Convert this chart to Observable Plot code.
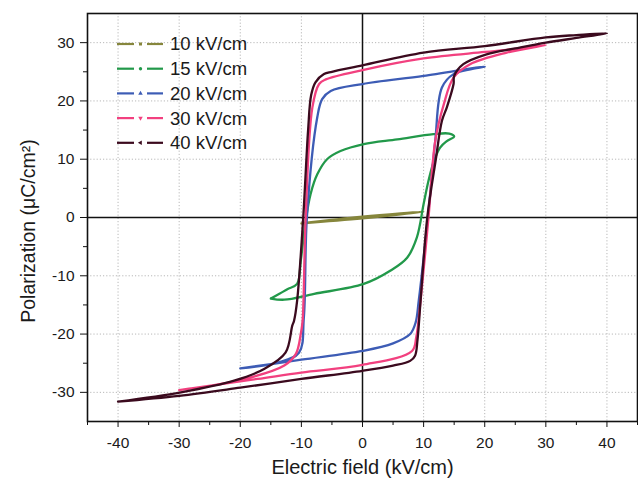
<!DOCTYPE html>
<html><head><meta charset="utf-8">
<script src="https://cdn.jsdelivr.net/npm/d3@7"></script>
<script src="https://cdn.jsdelivr.net/npm/@observablehq/plot@0.6"></script>
<style>body{margin:0;background:#fff}</style>
</head><body><div id="chart"></div>
<script>
const seriesNames = ["10 kV/cm","15 kV/cm","20 kV/cm","30 kV/cm","40 kV/cm"];
const seriesColors = ["#86863c","#22994a","#3d5cb5","#f2407f","#3b0a1e"];

// loops: rising branch from negative tip, then falling branch back
const e10 = [-10, 0, 10, 0, -10];
const p10 = [-1.0, -0.15, 1.0, 0.15, -1.0];

const e15 = [-15,-12.8,-7.9,0.2,4.6,7.3,8.9,10,10.8,11.7,12.7,13.8,15, 14.2,11.6,5.7,0.2,-3.6,-5.8,-7.4,-8.5,-9.3,-10.1,-10.7,-12.3,-13.6,-15];
const p15 = [-13.9,-14.1,-13.1,-11.4,-9.1,-6.9,-3.4,2.3,6.3,9.7,12,13.1,13.9, 14.4,14.3,13.4,12.6,11.4,10,7.4,4,-0.6,-7.4,-11.4,-12.3,-13.1,-13.9];

const e20 = [-20,-10,0,5,7.8,8.7,9.2,10.7,11.9,13,14.9,20, 10,0,-5.2,-6.6,-7.4,-9.1,-9.6,-10.4,-13.9,-20];
const p20 = [-25.9,-24.4,-22.9,-21.6,-20,-18,-14.3,0,13.1,22.3,24.6,25.9, 24.3,22.9,21.7,20.3,17.2,0,-17.2,-23.2,-24.9,-25.9];

const e30 = [-30,-17.2,-10,0,8.1,8.8,9.5,10.8,11.9,13.3,14.9,17.6,23.6,30, 24.7,20,10,0,-6,-7.1,-8.2,-9.3,-9.8,-10.1,-10.9,-12.8,-20.4,-30];
const p30 = [-29.6,-27.7,-26.6,-25.3,-22.9,-20.5,-14.3,0,13.1,19.4,24,26.3,28.3,29.6, 28.9,28.4,27.3,25.3,23.7,22.9,18.9,0,-17.7,-20,-23.4,-25.4,-28,-29.6];

const e40 = [-40,-30,-20,-10,0,5,7.8,8.6,9.0,9.5,10.6,12.0,13.0,13.8,14.9,15.0,16.5,20.3,25,30,35,40, 35,30,20,10,0,-5,-6.3,-7.7,-8.4,-8.9,-9.7,-10.7,-11.2,-11.5,-12.6,-16.1,-21,-29.7,-40];
const p40 = [-31.6,-30.6,-29.2,-27.7,-26.3,-25.4,-24.6,-23.7,-21,-14.3,0,10,16.6,18.9,22.9,24.3,26.3,28.0,29.0,30.0,30.8,31.6, 31.3,30.9,29.4,28.3,26.1,25.0,24.6,23.2,21,15,0,-14.3,-17.7,-18.6,-23.2,-26,-28,-30,-31.6];

const xMajor = [-40,-30,-20,-10,0,10,20,30,40];
const xMinor = [-45,-35,-25,-15,-5,5,15,25,35,45];
const yMajor = [-30,-20,-10,0,10,20,30];
const yMinor = [-25,-15,-5,5,15,25];

const loops = [[e10,p10],[e15,p15],[e20,p20],[e30,p30],[e40,p40]];
const rows = loops.flatMap(([es, ps], i) => es.map((E, j) => ({series: seriesNames[i], E, P: ps[j]})));

const fmt = d => String(d);
const chart = Plot.plot({
  width: 638, height: 483,
  marginLeft: 87, marginRight: 1, marginTop: 13, marginBottom: 62,
  x: {domain: [-45, 45]},
  y: {domain: [-35, 35]},
  color: {domain: seriesNames, range: seriesColors},
  style: {fontFamily: "'Liberation Sans', Arial, sans-serif", fontSize: "15.5px", color: "#1a1a1a", background: "#fff"},
  marks: [
    Plot.gridX(xMajor, {stroke: "#b8b8b8", strokeOpacity: 1, strokeDasharray: "1.2,2"}),
    Plot.gridY(yMajor, {stroke: "#b8b8b8", strokeOpacity: 1, strokeDasharray: "1.2,2"}),
    Plot.ruleX([0], {stroke: "#111", strokeWidth: 1.5}),
    Plot.ruleY([0], {stroke: "#111", strokeWidth: 1.5}),
    Plot.line(rows, {x: "E", y: "P", z: "series", stroke: "series", curve: "catmull-rom", strokeWidth: 2.3}),
    Plot.frame({stroke: "#111", strokeWidth: 1.6}),
    Plot.axisX(xMajor, {tickSize: 6, tickPadding: 9, tickFormat: fmt, label: null, stroke: "#111"}),
    Plot.axisX(xMinor, {tickSize: 4, tickFormat: () => "", label: null, stroke: "#111"}),
    Plot.axisY(yMajor, {tickSize: 7, tickPadding: 6, tickFormat: fmt, label: null, stroke: "#111"}),
    Plot.axisY(yMinor, {tickSize: 4, tickFormat: () => "", label: null, stroke: "#111"}),
    Plot.text(["Electric field (kV/cm)"], {text: d => d, frameAnchor: "bottom", dy: 46, fontSize: 20, lineAnchor: "middle"})
  ]
});
document.getElementById("chart").append(chart);

const svg = d3.select(chart);
// y-axis title
svg.append("text")
  .attr("transform", "translate(28,231) rotate(-90)")
  .attr("text-anchor", "middle").attr("dy", "0.35em")
  .attr("font-size", 19.5).attr("fill", "#1a1a1a")
  .text("Polarization (μC/cm²)");

// legend (top-left inside the frame)
const lg = svg.append("g").attr("text-anchor", "start");
const symbolTypes = [d3.symbolSquare, d3.symbolCircle, d3.symbolTriangle, d3.symbolTriangle, d3.symbolTriangle];
const symbolRot = [0, 0, 0, 180, -90];
seriesNames.forEach((name, i) => {
  const y = 44 + i * 24.7;
  const g = lg.append("g").attr("transform", `translate(0,${y})`);
  g.append("line").attr("x1", 117).attr("x2", 134).attr("y1", 0).attr("y2", 0).attr("stroke", seriesColors[i]).attr("stroke-width", 2.2);
  g.append("line").attr("x1", 147).attr("x2", 163).attr("y1", 0).attr("y2", 0).attr("stroke", seriesColors[i]).attr("stroke-width", 2.2);
  g.append("path").attr("d", d3.symbol(symbolTypes[i], 9)()).attr("transform", `translate(140.5,0) rotate(${symbolRot[i]})`).attr("fill", seriesColors[i]);
  g.append("text").attr("x", 170).attr("y", 0).attr("dy", "0.35em").attr("text-anchor", "start").attr("font-size", 18.5).attr("fill", "#1a1a1a").text(name);
});
</script>
</body></html>
